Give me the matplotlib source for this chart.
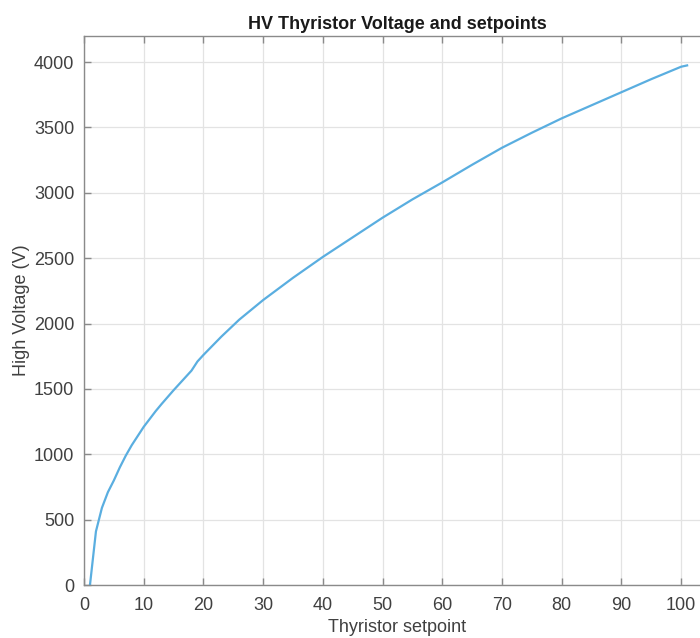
import matplotlib
matplotlib.use("Agg")
import matplotlib.pyplot as plt

# Data
setpoint = [1, 2, 3, 4, 5, 6, 7, 8, 10, 12, 13, 15, 17, 18, 19, 20, 23, 26, 30, 35,
            40, 45, 50, 55, 60, 65, 70, 75, 80, 85, 90, 95, 100, 101]
voltage = [0, 410, 590, 710, 800, 900, 990, 1070, 1210, 1330, 1385, 1490, 1590, 1640,
           1710, 1760, 1900, 2030, 2180, 2350, 2510, 2660, 2810, 2950, 3080, 3215,
           3345, 3460, 3570, 3670, 3770, 3870, 3965, 3975]
x_ticks = [0, 10, 20, 30, 40, 50, 60, 70, 80, 90, 100]
y_ticks = [0, 500, 1000, 1500, 2000, 2500, 3000, 3500, 4000]

title = "HV Thyristor Voltage and setpoints"
xlabel = "Thyristor setpoint"
ylabel = "High Voltage (V)"

plt.rcParams['font.family'] = ['Liberation Sans', 'DejaVu Sans']

fig = plt.figure(figsize=(7.0, 6.38), dpi=100)
ax = fig.add_axes([84/700, 53/638, (711-84)/700, (585-36)/638])

ax.plot(setpoint, voltage, color='#5aaee0', linewidth=1.6)

ax.set_xlim(0, 105)
ax.set_ylim(0, 4200)
ax.set_xticks(x_ticks)
ax.set_yticks(y_ticks)
ax.grid(True, color='#e3e3e3', linewidth=0.9)
ax.set_axisbelow(True)

for s in ax.spines.values():
    s.set_color('#8a8a8a')
    s.set_linewidth(1.0)

ax.tick_params(direction='in', length=5, width=1.0, color='#8a8a8a',
               labelcolor='#404040', labelsize=13, top=True, right=True)
ax.tick_params(axis='x', pad=9)
ax.tick_params(axis='y', pad=7)

ax.set_title(title, fontsize=13, fontweight='bold', color='#1a1a1a', pad=5)
ax.set_xlabel(xlabel, fontsize=13, color='#404040', labelpad=3)
ax.set_ylabel(ylabel, fontsize=13, color='#404040', labelpad=3)

fig.savefig("out.png", dpi=100)
